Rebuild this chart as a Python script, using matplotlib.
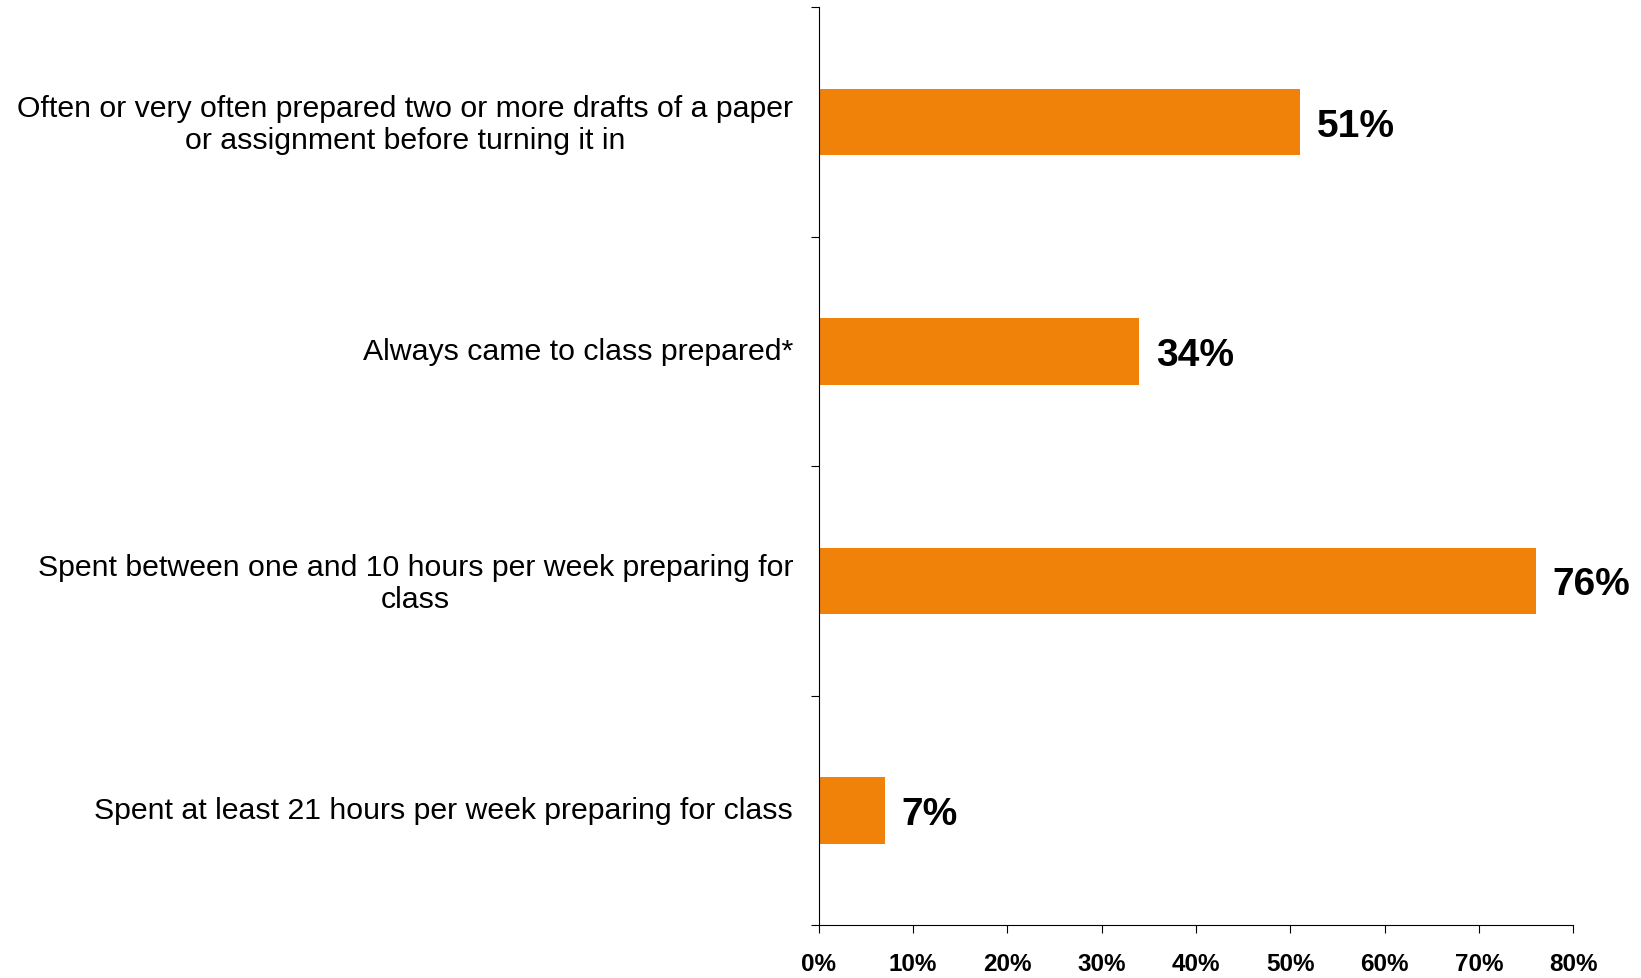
import numpy as np
import matplotlib.pyplot as plt
from matplotlib.ticker import FixedLocator
from matplotlib.transforms import ScaledTranslation

plt.rcParams['font.family'] = ['Liberation Sans', 'DejaVu Sans']

categories = [
    "Often or very often prepared two or more drafts of a paper\nor assignment before turning it in",
    "Always came to class prepared*",
    "Spent between one and 10 hours per week preparing for\nclass",
    "Spent at least 21 hours per week preparing for class",
]
values = [51, 34, 76, 7]
x_ticks = [0, 10, 20, 30, 40, 50, 60, 70, 80]
x_labels = [f"{t}%" for t in x_ticks]

fig = plt.figure(figsize=(16.41, 9.79), dpi=100)
ax = fig.add_axes([0.499, 0.054, 0.4597, 0.9374])

y = np.arange(len(categories))
ax.barh(y, values, height=0.29, color='#F0820A')
ax.set_ylim(len(categories) - 0.5, -0.5)
ax.set_xlim(0, 80)

for yi, v in zip(y, values):
    ax.annotate(f"{v}%", (v, yi), xytext=(12, -2.5), textcoords='offset points',
                va='center', ha='left', fontsize=28, fontweight='bold')

ax.set_yticks(y)
ax.set_yticklabels(categories, fontsize=21.8, multialignment='center')
ax.tick_params(axis='y', which='major', length=0, pad=18.5)
ax.yaxis.set_minor_locator(FixedLocator(np.arange(-0.5, len(categories), 1)))
ax.tick_params(axis='y', which='minor', length=6, width=0.8, direction='out')
shift_up = ScaledTranslation(0, 2.5 / 72, fig.dpi_scale_trans)
for lab in ax.get_yticklabels():
    lab.set_transform(lab.get_transform() + shift_up)

ax.set_xticks(x_ticks)
ax.set_xticklabels(x_labels, fontsize=17.5, fontweight='bold')
ax.tick_params(axis='x', length=6, width=0.8, pad=13)

for s in ['top', 'right']:
    ax.spines[s].set_visible(False)
for s in ['left', 'bottom']:
    ax.spines[s].set_linewidth(0.8)

fig.savefig('out.png', dpi=100)
